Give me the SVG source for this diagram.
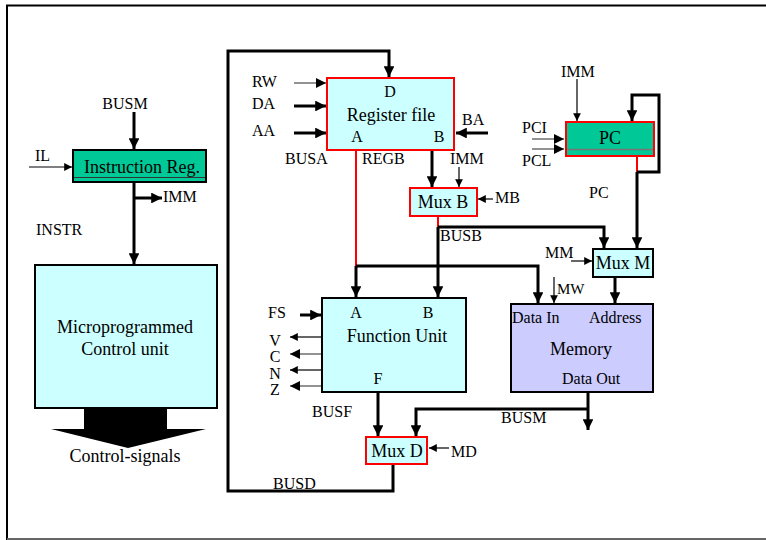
<svg xmlns="http://www.w3.org/2000/svg" width="766" height="540" viewBox="0 0 766 540">
<defs>
<style>
text{font-family:"Liberation Serif","Times New Roman",serif;fill:#000}
.lbl{font-size:16px}
.big{font-size:18px}
.sm{font-size:15px}
.box{fill:#ccffff;stroke:#000;stroke-width:2}
.rbox{fill:#ccffff;stroke:#ff0000;stroke-width:2}
.grn{fill:#00c896;stroke:#000;stroke-width:2}
.grnr{fill:#00c896;stroke:#ff0000;stroke-width:2}
.mem{fill:#ccccff;stroke:#000;stroke-width:2}
.thick{fill:none;stroke:#000;stroke-width:3}
.thin{fill:none;stroke:#000;stroke-width:1.2}
.gthin{fill:none;stroke:#777;stroke-width:1.6}
.red{fill:none;stroke:#ff0000;stroke-width:2}
</style>
<marker id="ah" viewBox="0 0 10 10" refX="10" refY="5" markerWidth="3.6" markerHeight="3.6" markerUnits="strokeWidth" orient="auto"><path d="M0,0L10,5L0,10z" fill="#000"/></marker>
<marker id="as" viewBox="0 0 10 10" refX="10" refY="5" markerWidth="6.5" markerHeight="6.5" markerUnits="strokeWidth" orient="auto"><path d="M0,0L10,5L0,10z" fill="#000"/></marker>
</defs>
<rect width="766" height="540" fill="#fff"/>
<g id="frame">
<path d="M7,540V5.5H766" fill="none" stroke="#000" stroke-width="2"/>
<path d="M7,539H766" fill="none" stroke="#666" stroke-width="2"/>
</g>

<g id="connectors">
<!-- IR -->
<path class="thick" d="M134,112V149" marker-end="url(#ah)"/>
<path class="thin" d="M29,167H72" marker-end="url(#as)"/>
<path class="thick" d="M134,182V264" marker-end="url(#ah)"/>
<path class="thick" d="M134,198H162" marker-end="url(#ah)"/>
<!-- BUSD loop -->
<path class="thick" d="M393,464V491H228V51H389V77" marker-end="url(#ah)"/>
<!-- RF inputs -->
<path class="gthin" d="M294,83H326" marker-end="url(#as)"/>
<path class="thick" d="M294,106H326" marker-end="url(#ah)"/>
<path class="thick" d="M294,133H326" marker-end="url(#ah)"/>
<path class="thick" d="M488,133H456" marker-end="url(#ah)"/>
<!-- RF outputs -->
<path class="red" d="M356,151V266"/>
<path class="thick" d="M356,266H538V303" marker-end="url(#ah)"/>
<path class="thick" d="M356,266V297" marker-end="url(#ah)"/>
<path class="thick" d="M432,151V187" marker-end="url(#ah)"/>
<path class="thin" d="M459,167V187" marker-end="url(#as)"/>
<path class="thin" d="M493,199H478" marker-end="url(#as)"/>
<!-- BUSB -->
<path class="red" d="M438,217V227"/>
<path class="thick" d="M438,227H604V248" marker-end="url(#ah)"/>
<path class="thick" d="M438,227V297" marker-end="url(#ah)"/>
<!-- PC -->
<path class="thin" d="M577,79V121" marker-end="url(#as)"/>
<path class="gthin" d="M532,139H564" marker-end="url(#as)"/>
<path class="gthin" d="M532,149H564" marker-end="url(#as)"/>
<path class="red" d="M637,157V172"/>
<path class="thick" d="M637,172H659V95H632V121" marker-end="url(#ah)"/>
<path class="thick" d="M637,172V248" marker-end="url(#ah)"/>
<!-- Mux M / Memory -->
<path class="thin" d="M571,261H592" marker-end="url(#as)"/>
<path class="thick" d="M615,277V303" marker-end="url(#ah)"/>
<path class="thin" d="M554,277V303" marker-end="url(#as)"/>
<!-- FU -->
<path class="thick" d="M300,315H321" marker-end="url(#ah)"/>
<path class="thin" d="M322,337H290" marker-end="url(#as)"/>
<path class="gthin" d="M322,354H290" marker-end="url(#as)"/>
<path class="thin" d="M322,370H290" marker-end="url(#as)"/>
<path class="gthin" d="M322,386H290" marker-end="url(#as)"/>
<path class="thick" d="M378,393V436" marker-end="url(#ah)"/>
<!-- BUSM -->
<path class="thick" d="M588,393V430" marker-end="url(#ah)"/>
<path class="thick" d="M588,409H416V436" marker-end="url(#ah)"/>
<path class="thin" d="M449,448H429" marker-end="url(#as)"/>
</g>

<g id="labels">
<text class="lbl" x="125" y="109" text-anchor="middle">BUSM</text>
<text class="lbl" x="35" y="161">IL</text>
<text class="lbl" x="163" y="202">IMM</text>
<text class="lbl" x="36" y="235">INSTR</text>
<text class="lbl" x="252" y="87">RW</text>
<text class="lbl" x="252" y="109">DA</text>
<text class="lbl" x="252" y="136">AA</text>
<text class="lbl" x="462" y="125">BA</text>
<text class="lbl" x="285" y="164">BUSA</text>
<text class="lbl" x="362" y="164">REGB</text>
<text class="lbl" x="450" y="164">IMM</text>
<text class="lbl" x="495" y="203">MB</text>
<text class="lbl" x="561" y="77">IMM</text>
<text class="lbl" x="522" y="133">PCI</text>
<text class="lbl" x="522" y="166">PCL</text>
<text class="lbl" x="589" y="198">PC</text>
<text class="lbl" x="440" y="241">BUSB</text>
<text class="lbl" x="545" y="258">MM</text>
<text class="sm" x="557" y="294">MW</text>
<text class="lbl" x="268" y="318">FS</text>
<text class="lbl" x="275" y="346" text-anchor="middle">V</text>
<text class="lbl" x="275" y="362" text-anchor="middle">C</text>
<text class="lbl" x="275" y="379" text-anchor="middle">N</text>
<text class="lbl" x="275" y="395" text-anchor="middle">Z</text>
<text class="lbl" x="312" y="417">BUSF</text>
<text class="lbl" x="501" y="423">BUSM</text>
<text class="lbl" x="451" y="457">MD</text>
<text class="lbl" x="273" y="489">BUSD</text>
</g>

<g id="ir">
<rect class="grn" x="73" y="150" width="133" height="32"/>
<path d="M74,177.5H205" stroke="#333" stroke-width="1"/>
<text class="big" x="142" y="173" text-anchor="middle">Instruction Reg.</text>
</g>

<g id="control-unit">
<rect class="box" x="35" y="265" width="182" height="143"/>
<text class="big" x="125" y="333" text-anchor="middle">Microprogrammed</text>
<text class="big" x="125" y="355" text-anchor="middle">Control unit</text>
<rect x="84" y="408" width="83" height="22" fill="#000"/>
<path d="M51,429H206L128,448z" fill="#000"/>
<text class="big" x="125" y="462" text-anchor="middle">Control-signals</text>
</g>

<g id="register-file">
<rect class="rbox" x="327" y="78" width="127" height="72"/>
<text class="lbl" x="390" y="97" text-anchor="middle">D</text>
<text class="big" x="391" y="121" text-anchor="middle">Register file</text>
<text class="lbl" x="357" y="142" text-anchor="middle">A</text>
<text class="lbl" x="439" y="142" text-anchor="middle">B</text>
</g>

<g id="mux-b">
<rect class="rbox" x="410" y="188" width="67" height="28"/>
<text class="big" x="443" y="208" text-anchor="middle">Mux B</text>
</g>

<g id="pc">
<rect class="grnr" x="566" y="122" width="88" height="34"/>
<path d="M567,149.5H653" stroke="#777" stroke-width="1.5"/>
<text class="big" x="610" y="144" text-anchor="middle">PC</text>
</g>

<g id="mux-m">
<rect class="box" x="593" y="249" width="60" height="28"/>
<text class="big" x="623" y="269" text-anchor="middle">Mux M</text>
</g>

<g id="memory">
<rect class="mem" x="511" y="304" width="142" height="88"/>
<text class="lbl" x="512" y="323">Data In</text>
<text class="lbl" x="589" y="323">Address</text>
<text class="big" x="581" y="355" text-anchor="middle">Memory</text>
<text class="lbl" x="562" y="384">Data Out</text>
</g>

<g id="function-unit">
<rect class="box" x="322" y="298" width="144" height="94"/>
<text class="lbl" x="356" y="318" text-anchor="middle">A</text>
<text class="lbl" x="428" y="318" text-anchor="middle">B</text>
<text class="big" x="397" y="342" text-anchor="middle">Function Unit</text>
<text class="lbl" x="378" y="384" text-anchor="middle">F</text>
</g>

<g id="mux-d">
<rect class="rbox" x="366" y="437" width="61" height="27"/>
<text class="big" x="397" y="457" text-anchor="middle">Mux D</text>
</g>
</svg>
